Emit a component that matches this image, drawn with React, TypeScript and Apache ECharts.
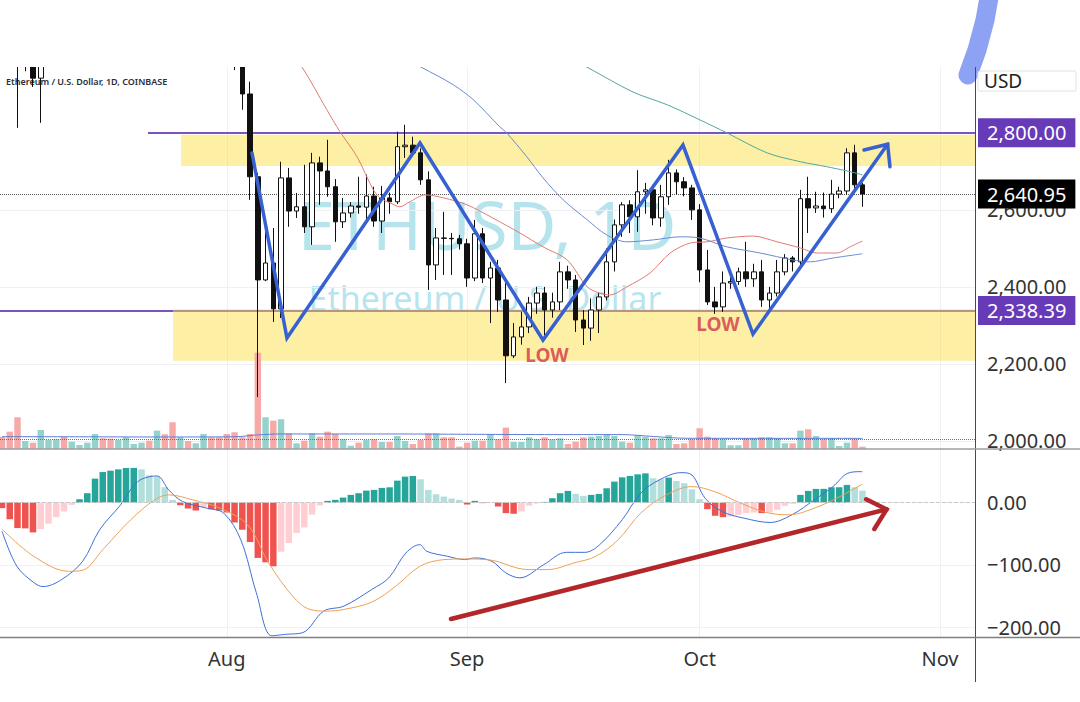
import React, { useEffect, useRef } from "react";
import * as echarts from "echarts";

// Daily candles from 2024-07-03 (index 0) to 2024-10-22 (index 111): [open, high, low, close]
const ohlc: number[][] = [
  [3420, 3440, 3260, 3295], [3295, 3310, 3050, 3060], [3060, 3110, 2813, 2985], [2985, 3080, 2960, 3070],
  [3070, 3090, 2919, 2942], [2942, 3100, 2826, 3020], [3020, 3090, 3000, 3065], [3065, 3150, 3020, 3100],
  [3102, 3215, 3050, 3100], [3100, 3150, 3050, 3135], [3135, 3200, 3120, 3175], [3175, 3270, 3150, 3245],
  [3245, 3500, 3235, 3485], [3485, 3500, 3350, 3445], [3445, 3515, 3380, 3390], [3390, 3490, 3370, 3420],
  [3420, 3540, 3380, 3505], [3505, 3540, 3480, 3515], [3515, 3545, 3430, 3535], [3535, 3560, 3420, 3440],
  [3440, 3540, 3420, 3480], [3480, 3490, 3320, 3335], [3335, 3340, 3090, 3175], [3175, 3290, 3165, 3275],
  [3275, 3330, 3200, 3250], [3250, 3280, 3200, 3270], [3270, 3400, 3260, 3320], [3320, 3370, 3260, 3280],
  [3280, 3350, 3220, 3230], [3230, 3250, 3100, 3200], [3200, 3215, 2963, 2990], [2990, 3015, 2860, 2901],
  [2901, 2933, 2626, 2686], [2686, 2696, 2114, 2418], [2418, 2553, 2415, 2462], [2462, 2553, 2309, 2343],
  [2343, 2725, 2319, 2683], [2683, 2709, 2556, 2597], [2597, 2644, 2579, 2608], [2608, 2717, 2540, 2556],
  [2556, 2748, 2509, 2722], [2722, 2738, 2613, 2701], [2701, 2782, 2634, 2660], [2660, 2680, 2517, 2569],
  [2569, 2631, 2553, 2592], [2592, 2620, 2580, 2610], [2610, 2686, 2590, 2607], [2607, 2692, 2566, 2636],
  [2636, 2660, 2556, 2571], [2571, 2662, 2540, 2631], [2631, 2645, 2590, 2621], [2621, 2803, 2615, 2764],
  [2764, 2821, 2735, 2768], [2768, 2790, 2740, 2748], [2748, 2760, 2665, 2678], [2678, 2700, 2392, 2457],
  [2457, 2553, 2418, 2527], [2527, 2595, 2431, 2526], [2526, 2540, 2431, 2525], [2525, 2535, 2497, 2512],
  [2512, 2525, 2400, 2423], [2423, 2574, 2415, 2538], [2538, 2553, 2410, 2423], [2423, 2465, 2306, 2449],
  [2449, 2470, 2335, 2366], [2366, 2410, 2150, 2221], [2221, 2306, 2215, 2270], [2270, 2335, 2250, 2296],
  [2296, 2374, 2280, 2358], [2358, 2400, 2330, 2384], [2384, 2400, 2275, 2340], [2340, 2385, 2320, 2361],
  [2361, 2465, 2340, 2439], [2439, 2455, 2395, 2418], [2418, 2431, 2283, 2314], [2314, 2340, 2249, 2293],
  [2293, 2370, 2260, 2340], [2340, 2385, 2280, 2374], [2374, 2500, 2365, 2465], [2465, 2575, 2440, 2561],
  [2561, 2620, 2530, 2613], [2613, 2625, 2540, 2582], [2582, 2703, 2543, 2647], [2647, 2670, 2590, 2652],
  [2652, 2665, 2560, 2579], [2579, 2665, 2556, 2634], [2634, 2730, 2613, 2696], [2696, 2705, 2640, 2673],
  [2673, 2685, 2635, 2657], [2657, 2665, 2574, 2600], [2600, 2615, 2412, 2444], [2444, 2496, 2353, 2361],
  [2361, 2400, 2330, 2348], [2348, 2440, 2335, 2410], [2410, 2430, 2395, 2414], [2414, 2450, 2405, 2439],
  [2439, 2517, 2400, 2421], [2421, 2460, 2400, 2439], [2439, 2470, 2348, 2366], [2366, 2400, 2335, 2384],
  [2384, 2470, 2375, 2439], [2439, 2485, 2430, 2475], [2475, 2480, 2440, 2465], [2465, 2652, 2455, 2629],
  [2629, 2686, 2540, 2605], [2605, 2647, 2592, 2610], [2610, 2645, 2580, 2603], [2603, 2678, 2592, 2641],
  [2641, 2660, 2630, 2649], [2649, 2760, 2640, 2748], [2748, 2769, 2647, 2665], [2665, 2670, 2608, 2641],
];

// Volume (thousands), one per candle
const volumes: number[] = [
  197, 277, 507, 128, 101, 304, 144, 155, 197, 117,
  64, 101, 240, 171, 165, 144, 187, 80, 101, 133,
  293, 235, 427, 187, 128, 91, 240, 187, 187, 240,
  267, 187, 240, 1536, 507, 453, 475, 251, 91, 133,
  251, 197, 277, 240, 155, 53, 101, 144, 155, 112,
  112, 208, 128, 80, 144, 251, 251, 187, 187, 37,
  101, 133, 133, 240, 155, 341, 112, 112, 187, 155,
  187, 155, 171, 80, 117, 187, 197, 208, 240, 208,
  117, 101, 224, 197, 171, 171, 224, 80, 91, 155,
  331, 197, 171, 155, 59, 59, 171, 171, 187, 187,
  171, 91, 91, 293, 315, 208, 155, 171, 48, 101,
  155, 37,
];
const volumeMA: number[][] = [
  [0, 197], [10, 195], [20, 192], [30, 195], [33, 225], [36, 240], [50, 240], [60, 235],
  [70, 230], [80, 230], [84, 200], [88, 172], [100, 170], [111, 170],
];

// MACD histogram, one per candle
const macdHist: number[] = [
  -9, -26.7, -41, -41.5, -48, -42.7, -34, -23.5, -14.4, -3.7,
  5.3, 15, 38.4, 49, 51.2, 53.3, 55.5, 55.6, 53.3, 43.7,
  41.6, 24.5, 4.3, -4.3, -9.6, -12.8, -7.5, -10.7, -12.8, -16,
  -32, -43.7, -63.5, -89, -96, -102.4, -79, -65, -49, -40,
  -19.2, -4.8, 2.7, 4.3, 8, 12.3, 15, 19.2, 20.3, 23.5,
  24.5, 35.2, 41.6, 42.7, 37.3, 20.3, 13.3, 9.6, 6.4, 4.3,
  -3.2, 2.7, -1, -0.5, -6.4, -17, -18, -14.4, -5, -1.5,
  1, 6.9, 15, 18.7, 13.9, 10.7, 12.3, 13.9, 22.9, 33.6,
  40.5, 42.7, 45.3, 46.9, 39, 37.3, 40, 34.7, 31, 21.3,
  5.3, -10.7, -21.3, -23.5, -22.4, -19.7, -17, -16, -17, -16,
  -11.7, -5.3, -2, 12.3, 18.7, 21.9, 22, 24.5, 24.6, 28.3,
  24.5, 19.2,
];
// [dayIndex, value]
const macdLine: number[][] = [
  [0, -46], [1.9, -102], [4.1, -128.5], [5.3, -135], [7.7, -123.7], [10.4, -94.4], [12.6, -43.7],
  [15.3, -3.7], [17.5, 33.6], [20, 42.7], [21.5, 20.3], [23.3, 1.6], [26.4, -9], [28.6, -17],
  [30.8, -59.7], [32.8, -144.5], [34.8, -214], [36.6, -211.7], [38.8, -209], [41.5, -174.4],
  [44.1, -166.4], [47.7, -139.7], [49.9, -121], [52.1, -81], [53.9, -67.7], [54.8, -78.4],
  [57.5, -86.4], [59.7, -91.7], [61, -89], [63.2, -94.4], [65, -113], [66.8, -121], [69.9, -99.7],
  [72.8, -80], [75.2, -80], [77.1, -67.7], [80, -27.7], [82.4, 15], [84.8, 36.3], [87.6, 48],
  [89, 44.3], [90.7, 7], [92.9, -14.4], [95.7, -25], [99.1, -32], [101.9, -19.7], [104.8, 4.3],
  [107.2, 25.6], [109.1, 47], [110.8, 49.6], [111, 49.5],
];
const signalLine: number[][] = [
  [0, -42.6], [4.1, -86.4], [8.6, -110.4], [10.4, -108.8], [13, -75.7], [16.6, -27.7], [19.7, 4.3],
  [21.5, 12.3], [24.6, 4.3], [28.1, -9], [31.7, -36], [34.4, -97], [37.5, -150.4], [39.7, -171.7],
  [41.9, -174.4], [44.1, -171.7], [47.7, -160], [50.8, -134.4], [53.9, -102.4], [57, -91.7],
  [59.7, -90.6], [63.2, -92.8], [66.4, -105], [68.1, -107.7], [70.4, -107.7], [73.8, -97],
  [76.6, -86.4], [79.5, -59.7], [82.4, -17], [85.7, 12.3], [89, 25.6], [91.9, 17.6], [95.3, -1],
  [98.6, -16], [101.5, -19.7], [104.8, -9], [108.1, 9.6], [110.8, 28.3], [111, 29],
];

// Moving averages: [dayIndex, price]
const maRed: number[][] = [
  [33, 3105], [36, 3040], [38.7, 2971], [41.9, 2860], [43.6, 2803], [45.8, 2738], [47.9, 2652],
  [48.8, 2631], [50.1, 2618], [51.3, 2608], [52.6, 2621], [54.6, 2639], [57, 2631], [60, 2613],
  [63.3, 2579], [66.8, 2540], [69.8, 2504], [72.9, 2470], [75.5, 2400], [77.1, 2384], [78.4, 2379],
  [80.6, 2400], [83.6, 2436], [86.2, 2488], [88.8, 2514], [91, 2517], [93.5, 2527], [96.9, 2532],
  [100, 2517], [103, 2501], [105.1, 2488], [107.7, 2488], [109.4, 2504], [111, 2519],
];
const maBlue: number[][] = [
  [50, 3010], [54.2, 2969], [58.2, 2925], [60.8, 2886], [64.2, 2816], [65.1, 2800], [67.7, 2738],
  [69.8, 2683], [72.4, 2626], [75.5, 2574], [78, 2535], [80.6, 2517], [84, 2522], [87.5, 2530],
  [90, 2527], [93.5, 2504], [97.8, 2488], [102, 2470], [104.2, 2465], [107.2, 2475], [111, 2486],
];
const maTeal: number[][] = [
  [70, 3028], [75.6, 2969], [81.4, 2906], [85.8, 2873], [90, 2834], [93.5, 2800], [98.7, 2748],
  [103, 2725], [106.4, 2712], [109, 2701], [111, 2691],
];

// Drawings
const zigzag: number[][] = [
  [32.25, 2747.7], [36.76, 2267.3], [53.92, 2773.6], [69.79, 2262], [87.85, 2768.4],
  [96.88, 2277.6], [114.25, 2770.3],
];
const zigzagHead: number[][] = [[111.2, 2755.5], [114.25, 2770.3], [114.55, 2712.1]];
const macdArrow: number[][] = [[57.92, -187.1], [114.11, -10.9]];
const macdArrowHead: number[][] = [[111.49, 5.2], [114.11, -10.9], [112.54, -42.5]];
const lowMarks: number[][] = [[70.3, 2223], [92.36, 2303.6]];
const resistance = 2800;
const support = 2338.39;
const lastPrice = 2640.95;
const upperZone = [2714, 2795];
const lowerZone = [2208, 2342];

// Axes
const monthTicks = [29, 60, 90, 121];
const monthLabels = ["Aug", "Sep", "Oct", "Nov"];
const priceTicks = [2000, 2200, 2400, 2600];
const macdTicks = [-200, -100, 0];

const X_MIN = -0.258;
const X_MAX = 125.52;
const FONT = "'Noto Sans', 'DejaVu Sans', sans-serif";

const fmtPrice = (v: number) =>
  v.toLocaleString("en-US", { minimumFractionDigits: 2, maximumFractionDigits: 2 });
const fmtMacd = (v: number) => (v < 0 ? "\u2212" : "") + Math.abs(v).toFixed(2);

function buildOption(): any {
  const candleData = ohlc.map((d, i) => [i, d[0], d[3], d[2], d[1]]);
  const volData = volumes.map((v, i) => ({
    value: [i, v],
    itemStyle: { color: ohlc[i][3] >= ohlc[i][0] ? "#93d3cc" : "#f6a9a7" },
  }));
  const histData = macdHist.map((v, i) => {
    const p = i > 0 ? macdHist[i - 1] : v;
    const c = v >= 0 ? (v >= p ? "#26a69a" : "#b2dfdb") : v <= p ? "#ef5350" : "#ffcdd2";
    return { value: [i, v], itemStyle: { color: c } };
  });
  const boxLabel = (bg: string) => ({
    show: true,
    position: "end",
    formatter: "{b}",
    distance: 3,
    backgroundColor: bg,
    color: "#ffffff",
    fontSize: 20,
    fontFamily: FONT,
    lineHeight: 21,
    padding: [4, 9, 4, 9],
  });
  const axisText = { color: "#333333", fontSize: 20, fontFamily: FONT };
  const faint = { show: true, lineStyle: { color: "#eef0f4", width: 1 } };

  return {
    animation: false,
    backgroundColor: "#ffffff",
    textStyle: { fontFamily: FONT },
    grid: [
      { left: 0, top: 67, width: 975, height: 382 },
      { left: 0, top: 449, width: 975, height: 188 },
    ],
    xAxis: [
      {
        type: "value", gridIndex: 0, min: X_MIN, max: X_MAX,
        axisLabel: { show: false }, axisLine: { show: false },
        axisTick: { show: false, customValues: monthTicks }, splitLine: faint,
      },
      {
        type: "value", gridIndex: 1, min: X_MIN, max: X_MAX,
        axisLine: { show: false },
        axisTick: { show: false, customValues: monthTicks },
        splitLine: faint,
        axisLabel: {
          ...axisText, margin: 11, customValues: monthTicks,
          formatter: (v: number) => {
            const k = monthTicks.indexOf(Math.round(v));
            return k >= 0 ? monthLabels[k] : "";
          },
        },
      },
    ],
    yAxis: [
      {
        type: "value", gridIndex: 0, position: "right", min: 1979, max: 2971,
        axisLine: { show: false },
        axisTick: { show: false, customValues: priceTicks },
        splitLine: faint,
        axisLabel: { ...axisText, margin: 12, customValues: priceTicks, formatter: (v: number) => fmtPrice(v) },
      },
      { type: "value", gridIndex: 0, position: "left", min: 0, max: 6100, show: false },
      {
        type: "value", gridIndex: 1, position: "right", min: -216, max: 86,
        axisLine: { show: false },
        axisTick: { show: false, customValues: macdTicks },
        splitLine: faint,
        axisLabel: { ...axisText, margin: 12, customValues: macdTicks, formatter: (v: number) => fmtMacd(v) },
      },
    ],
    graphic: [
      {
        type: "text", z: 0, x: 487, y: 224, silent: true,
        style: { text: "ETHUSD, 1D", fill: "rgba(120,205,222,0.55)", fontSize: 67, fontFamily: FONT, align: "center", verticalAlign: "middle" },
      },
      {
        type: "text", z: 0, x: 485, y: 298, silent: true,
        style: { text: "Ethereum / U.S. Dollar", fill: "rgba(120,205,222,0.55)", fontSize: 34, fontFamily: FONT, align: "center", verticalAlign: "middle" },
      },
      {
        type: "text", z: 1, x: 6, y: 81, silent: true,
        style: { text: "Ethereum / U.S. Dollar, 1D, COINBASE", fill: "#2a2e39", fontSize: 9, fontWeight: 600, fontFamily: FONT, verticalAlign: "middle" },
      },
      // blank band above the price pane (the chart is cropped there)
      { type: "rect", z: 12, silent: true, shape: { x: 0, y: 0, width: 975, height: 67 }, style: { fill: "#ffffff" } },
      {
        type: "polyline", z: 20, silent: true,
        shape: { points: [[990, -8], [985, 20], [977, 50], [968, 75]] },
        style: { stroke: "#8ea2f4", lineWidth: 19, lineCap: "round", lineJoin: "round", fill: null },
      },
      { type: "line", z: 30, silent: true, shape: { x1: 975.5, y1: 67, x2: 975.5, y2: 682 }, style: { stroke: "#4a4a4a", lineWidth: 1 } },
      { type: "line", z: 30, silent: true, shape: { x1: 0, y1: 449, x2: 1080, y2: 449 }, style: { stroke: "#9e9e9e", lineWidth: 1.5 } },
      { type: "line", z: 30, silent: true, shape: { x1: 0, y1: 637.5, x2: 1080, y2: 637.5 }, style: { stroke: "#808080", lineWidth: 1.5 } },
      { type: "rect", z: 30, silent: true, shape: { x: 978, y: 71, width: 98, height: 20, r: 2 }, style: { fill: "#ffffff", stroke: "#e2e2e2", lineWidth: 1 } },
      { type: "text", z: 31, x: 984, y: 81, silent: true, style: { text: "USD", fill: "#222222", fontSize: 19, fontFamily: FONT, verticalAlign: "middle" } },
    ],
    series: [
      {
        name: "rays", type: "line", xAxisIndex: 0, yAxisIndex: 0, data: [], z: 2, silent: true,
        markLine: {
          silent: true, z: 1, symbol: ["none", "none"],
          lineStyle: { color: "#7a55c0", width: 2, type: "solid" },
          data: [
            [{ name: fmtPrice(resistance), coord: [18.83, resistance], label: boxLabel("#673ab7") }, { coord: [X_MAX, resistance] }],
            [{ name: fmtPrice(support), coord: [X_MIN, support], label: boxLabel("#673ab7") }, { coord: [X_MAX, support] }],
          ],
        },
      },
      {
        name: "zones", type: "line", xAxisIndex: 0, yAxisIndex: 0, data: [], z: 3, silent: true,
        markArea: {
          silent: true, z: 2,
          itemStyle: { color: "rgba(250,222,60,0.47)" },
          data: [
            [{ coord: [23.09, upperZone[1]] }, { coord: [X_MAX, upperZone[0]] }],
            [{ coord: [22.06, lowerZone[1]] }, { coord: [X_MAX, lowerZone[0]] }],
          ],
        },
      },
      {
        name: "Volume", type: "bar", xAxisIndex: 0, yAxisIndex: 1, data: volData, barWidth: 6.4, z: 4, silent: true,
        markLine: {
          silent: true, symbol: ["none", "none"], label: { show: false },
          lineStyle: { color: "#6f6f6f", width: 1, type: "dotted" },
          data: [{ yAxis: 155 }],
        },
      },
      {
        name: "Volume MA", type: "line", xAxisIndex: 0, yAxisIndex: 1, data: volumeMA, z: 4, silent: true,
        showSymbol: false, smooth: 0.3, lineStyle: { color: "#5b7ed6", width: 1 },
      },
      {
        name: "ETHUSD", type: "candlestick", xAxisIndex: 0, yAxisIndex: 0, data: candleData, z: 5, silent: true,
        barWidth: 5, clip: true,
        itemStyle: { color: "#ffffff", color0: "#111111", borderColor: "#111111", borderColor0: "#111111", borderWidth: 1 },
        markLine: {
          silent: true, symbol: ["none", "none"],
          lineStyle: { color: "#555555", width: 1, type: "dotted" },
          data: [{ name: fmtPrice(lastPrice), yAxis: lastPrice, label: boxLabel("#000000") }],
        },
      },
      { name: "MA red", type: "line", xAxisIndex: 0, yAxisIndex: 0, data: maRed, z: 6, silent: true, showSymbol: false, smooth: 0.3, lineStyle: { color: "#e07b73", width: 1 } },
      { name: "MA blue", type: "line", xAxisIndex: 0, yAxisIndex: 0, data: maBlue, z: 6, silent: true, showSymbol: false, smooth: 0.3, lineStyle: { color: "#6a8bd0", width: 1 } },
      { name: "MA teal", type: "line", xAxisIndex: 0, yAxisIndex: 0, data: maTeal, z: 6, silent: true, showSymbol: false, smooth: 0.3, lineStyle: { color: "#4fa89f", width: 1 } },
      {
        name: "zigzag", type: "line", xAxisIndex: 0, yAxisIndex: 0, data: zigzag, z: 8, silent: true, showSymbol: false,
        lineStyle: { color: "#3760d0", width: 3.5, join: "miter", cap: "round" },
      },
      {
        name: "zigzagHead", type: "line", xAxisIndex: 0, yAxisIndex: 0, data: zigzagHead, z: 8, silent: true, showSymbol: false, clip: false,
        lineStyle: { color: "#3760d0", width: 3.5, join: "miter", cap: "round" },
      },
      {
        name: "LOW", type: "scatter", xAxisIndex: 0, yAxisIndex: 0, data: lowMarks, z: 8, silent: true,
        symbolSize: 1, itemStyle: { color: "rgba(0,0,0,0)" },
        label: { show: true, position: "inside", formatter: "LOW", color: "#d2344a", fontSize: 19, fontWeight: "bold", fontFamily: FONT },
      },
      {
        name: "Histogram", type: "bar", xAxisIndex: 1, yAxisIndex: 2, data: histData, barWidth: 6.5, z: 3, silent: true,
        markLine: {
          silent: true, symbol: ["none", "none"], label: { show: false },
          lineStyle: { color: "#c9c9c9", width: 1, type: "dashed" },
          data: [{ yAxis: 0 }],
        },
      },
      { name: "MACD", type: "line", xAxisIndex: 1, yAxisIndex: 2, data: macdLine, z: 4, silent: true, showSymbol: false, smooth: 0.35, lineStyle: { color: "#3f6fd8", width: 1 } },
      { name: "Signal", type: "line", xAxisIndex: 1, yAxisIndex: 2, data: signalLine, z: 4, silent: true, showSymbol: false, smooth: 0.35, lineStyle: { color: "#eda154", width: 1 } },
      {
        name: "macdArrow", type: "line", xAxisIndex: 1, yAxisIndex: 2, data: macdArrow, z: 8, silent: true, showSymbol: false, clip: false,
        lineStyle: { color: "#b3262a", width: 4.5, cap: "round" },
      },
      {
        name: "macdArrowHead", type: "line", xAxisIndex: 1, yAxisIndex: 2, data: macdArrowHead, z: 8, silent: true, showSymbol: false, clip: false,
        lineStyle: { color: "#b3262a", width: 4.5, cap: "round", join: "miter" },
      },
    ],
  };
}

export default function App() {
  const ref = useRef<HTMLDivElement>(null);
  useEffect(() => {
    if (!ref.current) return;
    const chart = echarts.init(ref.current, undefined, { renderer: "svg" });
    chart.setOption(buildOption());
    return () => chart.dispose();
  }, []);
  return (
    <div
      ref={ref}
      style={{ position: "fixed", left: 0, top: 0, width: 1080, height: 702, background: "#ffffff" }}
    />
  );
}
